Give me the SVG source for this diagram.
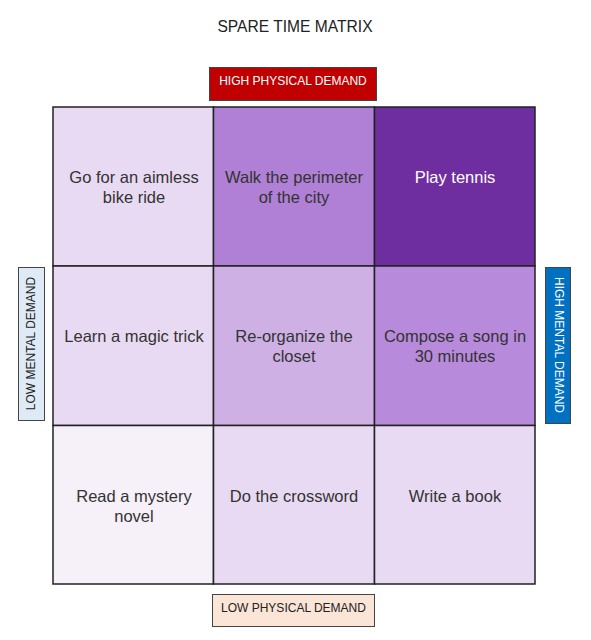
<svg xmlns="http://www.w3.org/2000/svg" width="591" height="640" viewBox="0 0 591 640">
<style>
.t{font-family:"Liberation Sans",Arial,sans-serif;fill:#333;text-anchor:middle}
.cell{stroke:#222;stroke-width:1.5}
.ct{font-size:16.5px}
.lbl{font-size:12px}
.lb{stroke:#444;stroke-width:1}
</style>
<rect width="591" height="640" fill="#fff"/>
<text class="t" x="295" y="32" style="font-size:15.6px;fill:#222">SPARE TIME MATRIX</text>

<g id="label-high-physical">
<rect class="lb" x="209.5" y="67.5" width="167" height="33" fill="#C00000"/>
<text class="t lbl" x="293" y="84.5" style="fill:#fff">HIGH PHYSICAL DEMAND</text>
</g>
<g id="label-low-physical">
<rect class="lb" x="212.5" y="594.5" width="162" height="32" fill="#FBE5D6"/>
<text class="t lbl" x="293.5" y="612" style="fill:#222">LOW PHYSICAL DEMAND</text>
</g>
<g id="label-low-mental">
<rect class="lb" x="18.5" y="267.5" width="26" height="153" fill="#DEEBF7"/>
<text class="t lbl" transform="translate(35,343.5) rotate(-90)" x="0" y="0" style="fill:#222">LOW MENTAL DEMAND</text>
</g>
<g id="label-high-mental">
<rect class="lb" x="545.5" y="267.5" width="25" height="156" fill="#0070C0"/>
<text class="t lbl" transform="translate(555,345) rotate(90)" x="0" y="0" style="fill:#fff">HIGH MENTAL DEMAND</text>
</g>

<g id="cell-bike">
<rect class="cell" x="53" y="107" width="160.5" height="159" fill="#E8DAF2"/>
<text class="t ct" x="134" y="183">Go for an aimless</text>
<text class="t ct" x="134" y="203">bike ride</text>
</g>
<g id="cell-walk">
<rect class="cell" x="213.5" y="107" width="161" height="159" fill="#AF80D5"/>
<text class="t ct" x="294" y="183">Walk the perimeter</text>
<text class="t ct" x="294" y="203">of the city</text>
</g>
<g id="cell-tennis">
<rect class="cell" x="374.5" y="107" width="160.5" height="159" fill="#6F2E9F"/>
<text class="t ct" x="455" y="183" style="fill:#fff">Play tennis</text>
</g>

<g id="cell-magic">
<rect class="cell" x="53" y="266" width="160.5" height="159.5" fill="#E8DAF2"/>
<text class="t ct" x="134" y="342">Learn a magic trick</text>
</g>
<g id="cell-closet">
<rect class="cell" x="213.5" y="266" width="161" height="159.5" fill="#CEB0E5"/>
<text class="t ct" x="294" y="342">Re-organize the</text>
<text class="t ct" x="294" y="362">closet</text>
</g>
<g id="cell-song">
<rect class="cell" x="374.5" y="266" width="160.5" height="159.5" fill="#B88ADB"/>
<text class="t ct" x="455" y="342">Compose a song in</text>
<text class="t ct" x="455" y="362">30 minutes</text>
</g>

<g id="cell-mystery">
<rect class="cell" x="53" y="425.5" width="160.5" height="158.5" fill="#F6F0F9"/>
<text class="t ct" x="134" y="502">Read a mystery</text>
<text class="t ct" x="134" y="522">novel</text>
</g>
<g id="cell-crossword">
<rect class="cell" x="213.5" y="425.5" width="161" height="158.5" fill="#E8DAF2"/>
<text class="t ct" x="294" y="502">Do the crossword</text>
</g>
<g id="cell-book">
<rect class="cell" x="374.5" y="425.5" width="160.5" height="158.5" fill="#E8DAF2"/>
<text class="t ct" x="455" y="502">Write a book</text>
</g>
<g id="connectors"></g>
</svg>
